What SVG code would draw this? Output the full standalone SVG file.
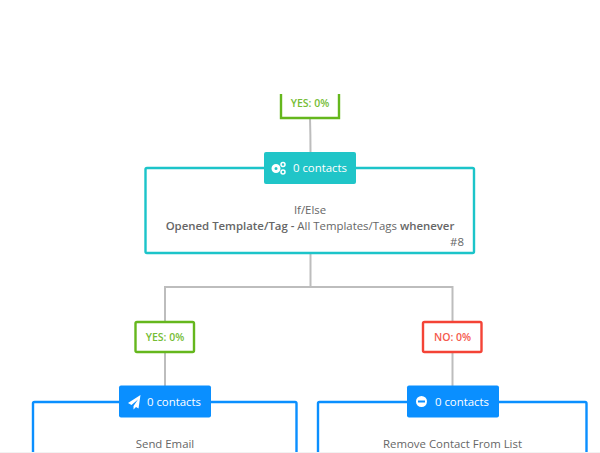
<svg xmlns="http://www.w3.org/2000/svg" width="600" height="453" viewBox="0 0 600 453">
<style>
text{font-family:"Open Sans","Liberation Sans",sans-serif;font-size:11.400px;fill:#666;text-anchor:middle}
.c{stroke:#bdbdbd;stroke-width:2;fill:none}
.b{fill:#fff;stroke-width:2.400}
.l{font-size:10.500px;font-weight:600}
.s{font-weight:600}
</style>
<rect width="600" height="453" fill="#fff"/>
<g id="connectors">
<path class="c" d="M310 118Q310.500 135 310.500 152"/>
<path class="c" d="M310.500 253V287M165 321V287H452.500V321"/>
<path class="c" d="M165 352V386M452.500 352V386"/>
</g>
<g id="yes-top">
<path d="M281 94V118H339V94" fill="#fff" stroke="#65b71d" stroke-width="2.400"/>
<text class="l" x="310" y="107" style="fill:#76bd35">YES: 0%</text>
</g>
<g id="if-else">
<rect class="b" x="145.500" y="168" width="328.500" height="85" rx="1.500" stroke="#1cc4c9"/>
<rect x="264" y="152" width="92" height="32" rx="2" fill="#20c5c8"/>
<circle cx="276" cy="168.500" r="3" fill="none" stroke="#fff" stroke-width="3"/>
<circle cx="283" cy="164.500" r="2" fill="none" stroke="#fff" stroke-width="1.500"/>
<circle cx="283" cy="172" r="2" fill="none" stroke="#fff" stroke-width="1.500"/>
<text x="320" y="172" style="fill:#fff">0 contacts</text>
<text x="310" y="214">If/Else</text>
<text x="310" y="230"><tspan class="s">Opened Template/Tag - </tspan>All Templates/Tags <tspan class="s">whenever</tspan></text>
<text x="457" y="246">#8</text>
</g>
<g id="yes-left">
<rect class="b" x="135.500" y="322" width="58.500" height="30" rx="1.500" stroke="#65b71d"/>
<text class="l" x="165" y="341" style="fill:#76bd35">YES: 0%</text>
</g>
<g id="no-right">
<rect class="b" x="423" y="322" width="58.500" height="30" rx="1.500" stroke="#f44336"/>
<text class="l" x="452.500" y="341" style="fill:#f55a4e">NO: 0%</text>
</g>
<g id="send-email">
<path d="M33 453V403.500Q33 402 34.500 402H295Q296.500 402 296.500 403.500V453" fill="#fff" stroke="#0a8fff" stroke-width="2.400"/>
<rect x="119" y="385.500" width="92" height="32" rx="2" fill="#0a8fff"/>
<path d="M140.500 395L128 403L131.500 405L138 399.500L133.500 406L133.500 409.500L136 407L138.500 408.500Z" fill="#fff"/>
<text x="174" y="405.500" style="fill:#fff">0 contacts</text>
<text x="165" y="447.500">Send Email</text>
</g>
<g id="remove-contact">
<path d="M318 453V403.500Q318 402 319.500 402H585Q586.500 402 586.500 403.500V453" fill="#fff" stroke="#0a8fff" stroke-width="2.400"/>
<rect x="407" y="385.500" width="92" height="32" rx="2" fill="#0a8fff"/>
<circle cx="421.500" cy="401.500" r="5.500" fill="#fff"/><rect x="418" y="400.500" width="7" height="2" fill="#0a8fff"/>
<text x="462" y="405.500" style="fill:#fff">0 contacts</text>
<text x="452.500" y="447.500">Remove Contact From List</text>
</g>
<rect x="0" y="452" width="600" height="1" fill="#f2f2f2"/>
</svg>
